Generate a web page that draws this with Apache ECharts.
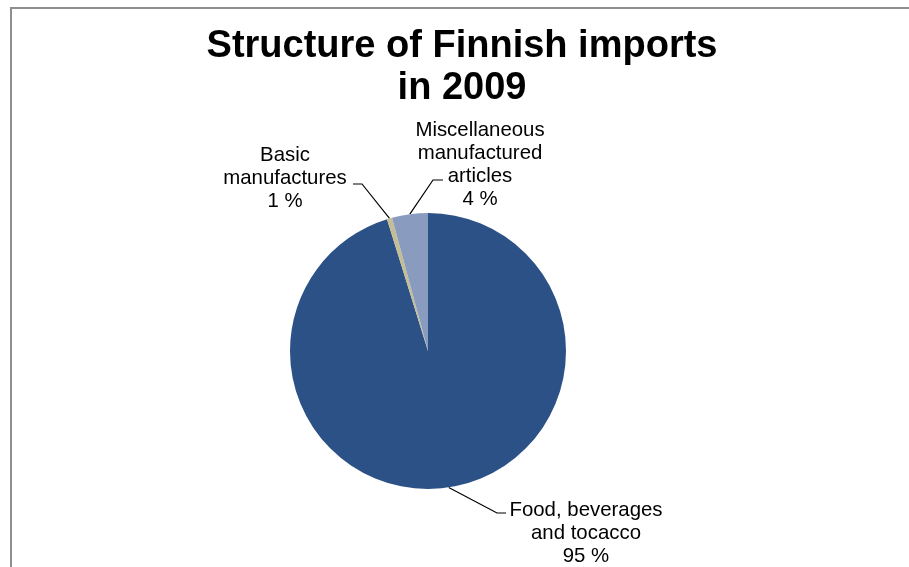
<!DOCTYPE html>
<html>
<head>
<meta charset="utf-8">
<style>
  html, body { margin: 0; padding: 0; background: #ffffff; }
  #chart { width: 909px; height: 567px; }
</style>
<script src="https://cdn.jsdelivr.net/npm/echarts@6/dist/echarts.min.js"></script>
</head>
<body>
<div id="chart"></div>
<script>
// Import structure, share of total (%)
const categories = ['Food, beverages\nand tocacco', 'Basic\nmanufactures', 'Miscellaneous\nmanufactured\narticles'];
const shares = [95.2, 0.6, 4.2];
const sliceColors = ['#2c5186', '#c4be94', '#8a9bc0'];

// Label block centres and leader-line elbows/ends, per slice
const labelPlacement = [
  { x: 586, y: 533, elbow: [497, 513], end: [506, 513] },
  { x: 285, y: 178, elbow: [362, 184], end: [353, 184] },
  { x: 480, y: 165, elbow: [433, 180], end: [443, 180] }
];

const chart = echarts.init(document.getElementById('chart'), null, { renderer: 'canvas' });

chart.setOption({
  backgroundColor: '#ffffff',
  animation: false,
  title: {
    text: 'Structure of Finnish imports\nin 2009',
    left: 462,
    top: 26,
    textAlign: 'center',
    padding: 0,
    textStyle: {
      fontFamily: 'Liberation Sans, Arial, sans-serif',
      fontSize: 38,
      fontWeight: 'bold',
      lineHeight: 42,
      color: '#000000'
    }
  },
  graphic: [{
    type: 'rect',
    silent: true,
    shape: { x: 11, y: 8, width: 1000, height: 1000 },
    style: { fill: 'none', stroke: '#8e8e8e', lineWidth: 2 }
  }],
  series: [{
    type: 'pie',
    center: [428, 351],
    radius: 138,
    startAngle: 90,
    clockwise: true,
    percentPrecision: 0,
    data: categories.map((name, i) => ({
      name: name,
      value: shares[i],
      itemStyle: { color: sliceColors[i] }
    })),
    itemStyle: { borderWidth: 0 },
    emphasis: { disabled: true },
    label: {
      show: true,
      position: 'outside',
      formatter: '{b}\n{d} %',
      fontFamily: 'Liberation Sans, Arial, sans-serif',
      fontSize: 20.4,
      lineHeight: 23,
      color: '#000000',
      align: 'center'
    },
    labelLine: {
      show: true,
      length: 20,
      length2: 10,
      lineStyle: { color: '#000000', width: 1.2 }
    },
    labelLayout: function (params) {
      const p = labelPlacement[params.dataIndex];
      const start = params.labelLinePoints ? params.labelLinePoints[0] : p.elbow;
      return {
        x: p.x,
        y: p.y,
        align: 'center',
        verticalAlign: 'middle',
        labelLinePoints: [start, p.elbow, p.end]
      };
    }
  }]
});
</script>
</body>
</html>
